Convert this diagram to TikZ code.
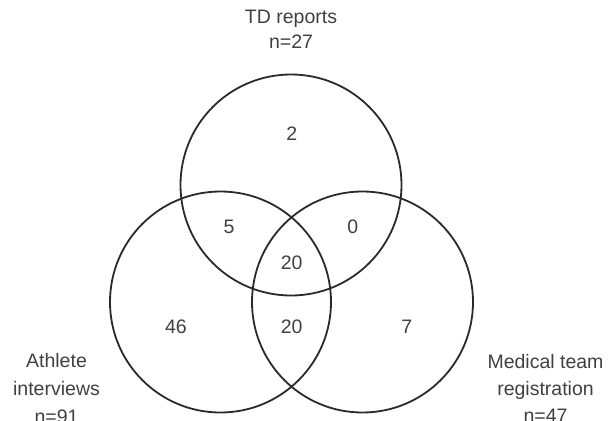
\documentclass[tikz,border=0pt]{standalone}
\usepackage{fontspec}
\setmainfont{Liberation Sans}
\definecolor{ringcol}{HTML}{2A2A2A}
\definecolor{labcol}{HTML}{404040}

\tikzset{
  ring/.style={circle, draw=ringcol, line width=1.8pt, minimum size=221pt, inner sep=0pt},
  count/.style={inner sep=0pt, text=labcol, font=\fontsize{19.5}{24}\selectfont},
  setname/.style={inner sep=0pt, text=labcol, align=center, anchor=north}
}

\begin{document}
\begin{tikzpicture}[x=1pt,y=1pt,yscale=-1,xscale=1]
\useasboundingbox (0,0) rectangle (615,420);

%Circles
\node (td) [ring] at (291,185) {};
\node (ath) [ring] at (220.5,302) {};
\node (med) [ring] at (362.5,302) {};

% Region counts
\node (ctd) [count] at (291.7,133.3) {2};
\node (ctdath) [count] at (229,227) {5};
\node (ctdmed) [count] at (352.7,227) {0};
\node (call) [count] at (291.7,262.3) {20};
\node (cathmed) [count] at (291.7,326.7) {20};
\node (cath) [count] at (176,326.7) {46};
\node (cmed) [count] at (406.7,326.7) {7};

% Set names
\node (ltd) [setname, font=\fontsize{19.5}{24.5}\selectfont] at (291,10) {TD reports\\n=27};
\node (lath) [setname, font=\fontsize{19.5}{28}\selectfont] at (56.5,353.3) {Athlete\\interviews\\n=91};
\node (lmed) [setname, font=\fontsize{19.5}{27}\selectfont] at (545.5,354) {Medical team\\registration\\n=47};

\end{tikzpicture}
\end{document}
